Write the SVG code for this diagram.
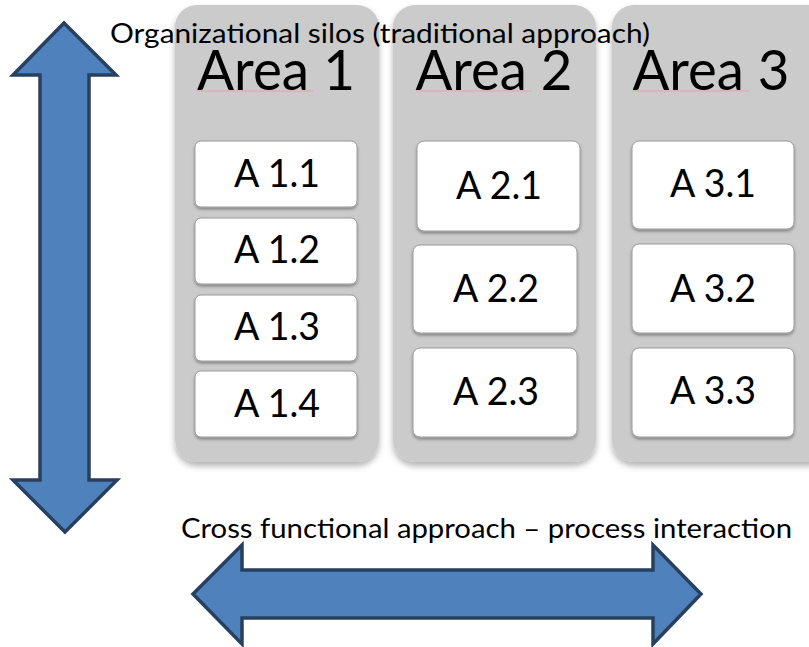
<svg xmlns="http://www.w3.org/2000/svg" width="809" height="647" viewBox="0 0 809 647">
  <defs>
    <filter id="panelShadow" x="-10%" y="-5%" width="120%" height="115%">
      <feDropShadow dx="0" dy="4" stdDeviation="3" flood-color="#000" flood-opacity="0.3"/>
    </filter>
    <filter id="boxShadow" x="-10%" y="-10%" width="120%" height="130%">
      <feDropShadow dx="0" dy="2" stdDeviation="1.5" flood-color="#000" flood-opacity="0.35"/>
    </filter>
  </defs>
  <style>
    .panel { fill: #cbcbcb; filter: url(#panelShadow); }
    .box { fill: #ffffff; stroke: #9a9a9a; stroke-width: 1; filter: url(#boxShadow); }
    .arrow { fill: #4f81bd; stroke: #27405f; stroke-width: 3.5; stroke-linejoin: miter; }
    .title { font-family: Lato, "Open Sans", "Liberation Sans", sans-serif; font-size: 56px; fill: #000; text-anchor: middle; }
    .label { font-family: Lato, "Open Sans", "Liberation Sans", sans-serif; font-size: 38px; fill: #000; text-anchor: middle; }
    .caption { font-family: Lato, "Open Sans", "Liberation Sans", sans-serif; font-size: 27px; fill: #000; }
    .squiggle { stroke: #e7a3a3; stroke-width: 1; }
  </style>
  <rect width="809" height="647" fill="#ffffff"/>

  <!-- area panels -->
  <g id="area1">
    <rect class="panel" x="175" y="5" width="204" height="457" rx="22"/>
    <text class="title" x="276" y="90" textLength="158" lengthAdjust="spacingAndGlyphs">Area 1</text>
    <line class="squiggle" x1="197" y1="91" x2="313" y2="91"/>
  </g>
  <g id="area2">
    <rect class="panel" x="393" y="5" width="203" height="457" rx="22"/>
    <text class="title" x="494" y="90" textLength="157" lengthAdjust="spacingAndGlyphs">Area 2</text>
    <line class="squiggle" x1="416" y1="91" x2="532" y2="91"/>
  </g>
  <g id="area3">
    <rect class="panel" x="612" y="5" width="220" height="457" rx="22"/>
    <text class="title" x="711" y="90" textLength="157" lengthAdjust="spacingAndGlyphs">Area 3</text>
    <line class="squiggle" x1="633" y1="91" x2="749" y2="91"/>
  </g>

  <!-- activity boxes, area 1 -->
  <g id="a11"><rect class="box" x="195" y="141" width="162" height="66" rx="6"/><text class="label" x="277" y="187" textLength="86" lengthAdjust="spacingAndGlyphs">A 1.1</text></g>
  <g id="a12"><rect class="box" x="195" y="218" width="162" height="66" rx="6"/><text class="label" x="277" y="263" textLength="86" lengthAdjust="spacingAndGlyphs">A 1.2</text></g>
  <g id="a13"><rect class="box" x="195" y="295" width="162" height="66" rx="6"/><text class="label" x="277" y="340" textLength="86" lengthAdjust="spacingAndGlyphs">A 1.3</text></g>
  <g id="a14"><rect class="box" x="195" y="371" width="162" height="66" rx="6"/><text class="label" x="277" y="417" textLength="86" lengthAdjust="spacingAndGlyphs">A 1.4</text></g>

  <!-- activity boxes, area 2 -->
  <g id="a21"><rect class="box" x="417" y="141" width="163" height="90" rx="7"/><text class="label" x="499" y="199" textLength="86" lengthAdjust="spacingAndGlyphs">A 2.1</text></g>
  <g id="a22"><rect class="box" x="413" y="245" width="164" height="88" rx="7"/><text class="label" x="496" y="302" textLength="86" lengthAdjust="spacingAndGlyphs">A 2.2</text></g>
  <g id="a23"><rect class="box" x="413" y="348" width="164" height="89" rx="7"/><text class="label" x="496" y="405" textLength="86" lengthAdjust="spacingAndGlyphs">A 2.3</text></g>

  <!-- activity boxes, area 3 -->
  <g id="a31"><rect class="box" x="632" y="141" width="162" height="88" rx="7"/><text class="label" x="713" y="197" textLength="86" lengthAdjust="spacingAndGlyphs">A 3.1</text></g>
  <g id="a32"><rect class="box" x="632" y="244" width="162" height="89" rx="7"/><text class="label" x="713" y="302" textLength="86" lengthAdjust="spacingAndGlyphs">A 3.2</text></g>
  <g id="a33"><rect class="box" x="632" y="348" width="162" height="89" rx="7"/><text class="label" x="713" y="404" textLength="86" lengthAdjust="spacingAndGlyphs">A 3.3</text></g>

  <!-- direction arrows -->
  <g id="connectors">
    <polygon id="vertical-arrow" class="arrow" points="64,23 116,75 89,75 89,480 117,480 65,532 13,480 40,480 40,75 13,75"/>
    <polygon id="horizontal-arrow" class="arrow" points="193,594 242,545 242,570 653,570 653,545 701,594 653,644 653,618 242,618 242,644"/>
  </g>

  <!-- captions -->
  <g id="captions">
    <text class="caption" x="110" y="43" textLength="540" lengthAdjust="spacingAndGlyphs">Organizational silos (traditional approach)</text>
    <text class="caption" x="181" y="538" textLength="611" lengthAdjust="spacingAndGlyphs">Cross functional approach – process interaction</text>
  </g>
</svg>
